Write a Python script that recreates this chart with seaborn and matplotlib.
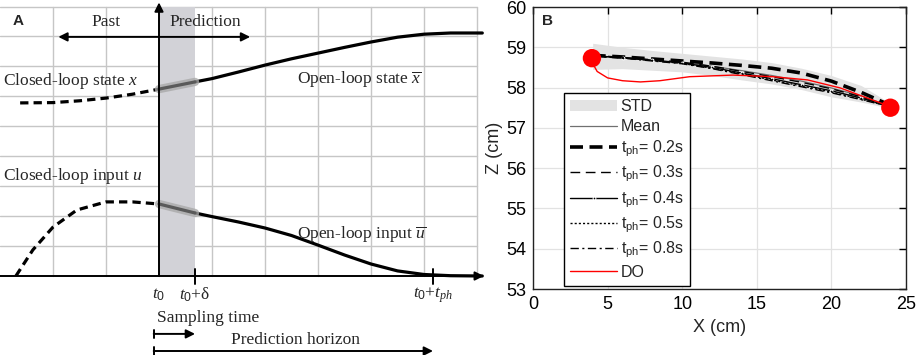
import numpy as np
import pandas as pd
import matplotlib
matplotlib.use("Agg")
import matplotlib.pyplot as plt
import seaborn as sns

# ---------------- data: panel A (grid units) ----------------
state_past_t = [0.38, 1.0, 1.5, 2.0, 2.5, 3.0]
state_past_v = [5.77, 5.78, 5.84, 5.93, 6.06, 6.23]
state_pred_t = [3.0, 3.68, 4.0, 4.5, 5.0, 5.5, 6.0, 6.5, 7.0, 7.5, 8.0, 8.5, 9.1]
state_pred_v = [6.23, 6.47, 6.58, 6.80, 7.03, 7.24, 7.43, 7.62, 7.80, 7.96, 8.06, 8.10, 8.10]
input_past_t = [0.30, 0.62, 1.0, 1.45, 2.0, 2.5, 3.0]
input_past_v = [0.0, 0.87, 1.63, 2.20, 2.47, 2.47, 2.40]
input_pred_t = [3.0, 3.68, 4.0, 4.5, 5.0, 5.5, 6.0, 6.5, 7.0, 7.5, 8.0, 8.5, 9.1]
input_pred_v = [2.40, 2.10, 1.98, 1.80, 1.60, 1.35, 1.03, 0.70, 0.40, 0.17, 0.05, 0.01, 0.0]
t0, t_delta, t_ph = 3.0, 3.68, 8.17

# ---------------- data: panel B ----------------
X = [4, 6, 8, 10, 12, 14, 16, 18, 20, 22, 24]
Z_02 = [58.80, 58.76, 58.71, 58.66, 58.61, 58.55, 58.48, 58.36, 58.16, 57.88, 57.55]
Z_03 = [58.80, 58.75, 58.69, 58.63, 58.53, 58.40, 58.27, 58.13, 57.97, 57.77, 57.53]
Z_04 = [58.79, 58.74, 58.68, 58.61, 58.50, 58.36, 58.22, 58.07, 57.92, 57.74, 57.52]
Z_05 = [58.79, 58.74, 58.67, 58.60, 58.48, 58.34, 58.19, 58.04, 57.89, 57.71, 57.52]
Z_08 = [58.78, 58.73, 58.66, 58.59, 58.47, 58.32, 58.17, 58.02, 57.87, 57.70, 57.52]
Z_mean = [58.79, 58.74, 58.68, 58.62, 58.53, 58.42, 58.30, 58.16, 57.99, 57.79, 57.53]
Z_std_hi = [59.10, 59.00, 58.92, 58.85, 58.78, 58.71, 58.62, 58.48, 58.30, 58.05, 57.60]
Z_std_lo = [58.45, 58.47, 58.43, 58.39, 58.30, 58.19, 58.09, 57.95, 57.77, 57.64, 57.48]
X_do = [3.95, 4.0, 4.3, 5.0, 6.0, 7.2, 8.5, 10.5, 13.4, 16.1, 18.4, 20.6, 21.9, 23.0, 24.0]
Z_do = [58.73, 58.60, 58.40, 58.24, 58.17, 58.14, 58.17, 58.27, 58.31, 58.27, 58.19, 57.99, 57.81, 57.66, 57.52]
endpoints_x = [3.95, 23.95]
endpoints_z = [58.73, 57.50]
xticks_B = [0, 5, 10, 15, 20, 25]
yticks_B = [53, 54, 55, 56, 57, 58, 59, 60]

sns.set_style("white")
plt.rcParams["font.family"] = ["Liberation Sans", "DejaVu Sans"]
plt.rcParams["mathtext.fontset"] = "custom"
plt.rcParams["mathtext.rm"] = "Liberation Sans"
plt.rcParams["mathtext.it"] = "Liberation Serif:italic"
plt.rcParams["mathtext.bf"] = "Liberation Sans:bold"

fig = plt.figure(figsize=(9.17, 3.55), dpi=100)

# ================= Panel A =================
axA = fig.add_axes([0, 0, 490 / 917, 1])
axA.set_xlim(0, 490 / 53)
axA.set_ylim(-79 / 30, 276 / 30)
axA.axis("off")
gc = "#c6c6c6"
for gx in range(1, 10):
    axA.plot([gx, gx], [0, 8.97], color=gc, lw=1, zorder=0)
for gy in range(1, 9):
    axA.plot([0, 9], [gy, gy], color=gc, lw=1, zorder=0)
axA.plot([0, 9], [8.97, 8.97], color=gc, lw=1, zorder=0)

axA.axvspan(t0, t_delta, ymin=79 / 355, ymax=(79 + 269) / 355, color="#d2d2d7", zorder=1, lw=0)

serif = ["Liberation Serif", "DejaVu Serif"]
dash = (0, (2.6, 1.6))
sns.lineplot(x=state_past_t, y=state_past_v, ax=axA, color="black", lw=2.3,
             linestyle=dash, sort=False, estimator=None, zorder=3)
sns.lineplot(x=input_past_t, y=input_past_v, ax=axA, color="black", lw=2.3,
             linestyle=dash, sort=False, estimator=None, zorder=3)
sns.lineplot(x=state_pred_t[1:], y=state_pred_v[1:], ax=axA, color="black", lw=2.3,
             sort=False, estimator=None, zorder=3)
sns.lineplot(x=input_pred_t[1:], y=input_pred_v[1:], ax=axA, color="black", lw=2.3,
             sort=False, estimator=None, zorder=3)
for tt, vv in [(state_pred_t, state_pred_v), (input_pred_t, input_pred_v)]:
    sns.lineplot(x=tt[:2], y=vv[:2], ax=axA, color="#a9a9a9", lw=6, alpha=0.8,
                 sort=False, estimator=None, zorder=3)
    sns.lineplot(x=tt[:2], y=vv[:2], ax=axA, color="#5a5a5a", lw=2.3,
                 sort=False, estimator=None, zorder=4)

arr = dict(arrowstyle="-|>", color="black", lw=1.4, mutation_scale=13, shrinkA=0, shrinkB=0)
axA.annotate("", xy=(t0, 9.12), xytext=(t0, 0), arrowprops=arr, zorder=5)
axA.annotate("", xy=(9.13, 0), xytext=(0, 0), arrowprops=arr, zorder=5)
arr2 = dict(arrowstyle="<|-|>", color="black", lw=1.4, mutation_scale=13, shrinkA=0, shrinkB=0)
axA.annotate("", xy=(4.72, 7.97), xytext=(1.1, 7.97), arrowprops=arr2, zorder=5)
for tx in (t_delta, t_ph):
    axA.plot([tx, tx], [-0.25, 0.25], color="black", lw=1.4, zorder=5)

fsA = 12.5
axA.text(2.0, 8.47, "Past", family=serif, fontsize=fsA, ha="center", va="center")
axA.text(3.87, 8.47, "Prediction", family=serif, fontsize=fsA, ha="center", va="center")
axA.text(0.06, 6.5, r"Closed-loop state $x$", family=serif, fontsize=fsA, ha="left", va="center")
axA.text(5.6, 6.55, r"Open-loop state $\overline{x}$", family=serif, fontsize=fsA, ha="left", va="center")
axA.text(0.06, 3.33, r"Closed-loop input $u$", family=serif, fontsize=fsA, ha="left", va="center")
axA.text(5.6, 1.37, r"Open-loop input $\overline{u}$", family=serif, fontsize=fsA, ha="left", va="center")
axA.text(t0, -0.63, r"$t_{\mathit{0}}$", family=serif, fontsize=fsA, ha="center", va="center")
axA.text(t_delta, -0.63, r"$t_{\mathit{0}}$+δ", family=serif, fontsize=fsA, ha="center", va="center")
axA.text(t_ph, -0.63, r"$t_{\mathit{0}}$+$t_{\mathit{ph}}$", family=serif, fontsize=fsA, ha="center", va="center")
axA.text(2.96, -1.4, "Sampling time", family=serif, fontsize=fsA, ha="left", va="center")
axA.text(5.58, -2.13, "Prediction horizon", family=serif, fontsize=fsA, ha="center", va="center")
axA.annotate("", xy=(t_delta, -1.93), xytext=(2.9, -1.93), arrowprops=arr, zorder=5)
axA.annotate("", xy=(t_ph, -2.5), xytext=(2.9, -2.5), arrowprops=arr, zorder=5)
for yy in (-1.93, -2.5):
    axA.plot([2.9, 2.9], [yy - 0.14, yy + 0.14], color="black", lw=1.4)
axA.text(0.34, 8.5, "A", fontsize=11, fontweight="bold", ha="center", va="center")

# ================= Panel B =================
axB = fig.add_axes([533 / 917, 66 / 355, 373 / 917, 282 / 355])
h_std = axB.fill_between(X, Z_std_lo, Z_std_hi, color="#e3e3e3", lw=0, label="STD", zorder=1)

def line(x, y, **kw):
    sns.lineplot(x=x, y=y, ax=axB, sort=False, estimator=None, **kw)
    return axB.get_lines()[-1]

h_mean = line(X, Z_mean, color="#707070", lw=0.9, zorder=3)
h02 = line(X, Z_02, color="black", lw=2.6, linestyle=(0, (3.6, 1.8)), zorder=3)
h03 = line(X, Z_03, color="black", lw=1.0, linestyle=(0, (7, 4)), zorder=3)
h04 = line(X, Z_04, color="black", lw=1.0, marker=".", markersize=4, zorder=3)
h05 = line(X, Z_05, color="black", lw=1.0, linestyle=(0, (1.5, 1.5)), zorder=3)
h08 = line(X, Z_08, color="black", lw=1.0, linestyle=(0, (6, 2.5, 1.5, 2.5)), zorder=3)
h_do = line(X_do, Z_do, color="#ff0000", lw=1.0, zorder=4)
sns.scatterplot(x=endpoints_x, y=endpoints_z, ax=axB, color="#ff0000", s=175,
                edgecolor="none", zorder=6, legend=False)

axB.set_xlim(0, 25)
axB.set_ylim(53, 60)
axB.set_xticks(xticks_B)
axB.set_yticks(yticks_B)
axB.grid(True, color="#e2e2e2", lw=0.9)
axB.set_axisbelow(True)
axB.tick_params(direction="in", top=True, right=True, length=5, width=1,
                labelsize=13, colors="black", pad=5)
for sp in axB.spines.values():
    sp.set_color("#222222")
    sp.set_linewidth(1.0)
axB.set_xlabel("X (cm)", fontsize=13, labelpad=4)
axB.set_ylabel("Z (cm)", fontsize=13, labelpad=2)
axB.text(0.025, 0.975, "B", transform=axB.transAxes, fontsize=11, fontweight="bold",
         ha="left", va="top")

labels = ["STD", "Mean", r"t$_{\mathrm{ph}}$= 0.2s", r"t$_{\mathrm{ph}}$= 0.3s",
          r"t$_{\mathrm{ph}}$= 0.4s", r"t$_{\mathrm{ph}}$= 0.5s", r"t$_{\mathrm{ph}}$= 0.8s", "DO"]
leg = axB.legend([h_std, h_mean, h02, h03, h04, h05, h08, h_do], labels,
                 loc="lower left", bbox_to_anchor=(0.083, 0.011), borderaxespad=0,
                 fontsize=11.5, frameon=True, fancybox=False, edgecolor="black",
                 handlelength=2.9, handletextpad=0.25, labelspacing=0.3,
                 borderpad=0.4, framealpha=1)
leg.get_frame().set_linewidth(1.0)

fig.savefig("out.png", dpi=100)
